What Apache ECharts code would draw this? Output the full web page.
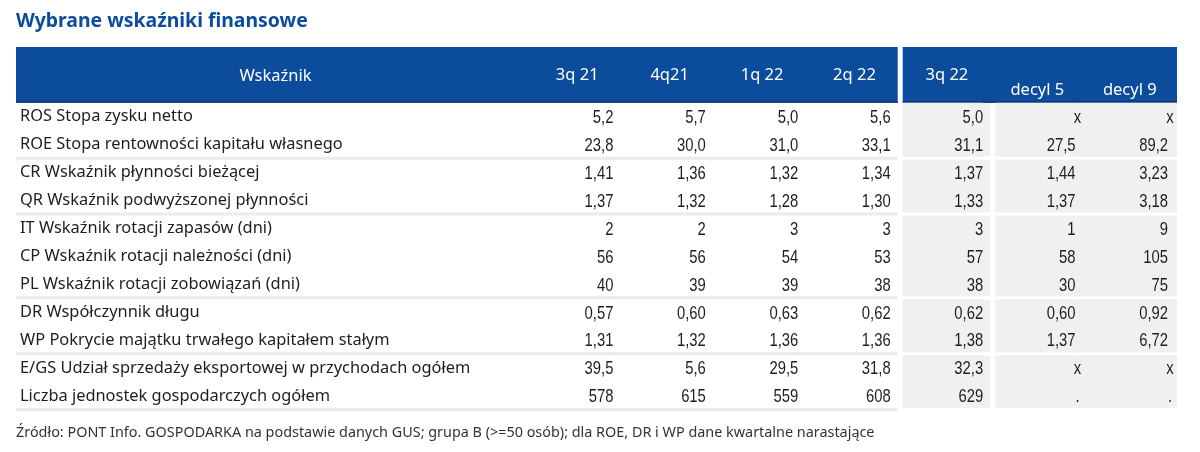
<!DOCTYPE html>
<html><head><meta charset="utf-8">
<script src="https://cdn.jsdelivr.net/npm/echarts@6/dist/echarts.min.js"></script>
<style>html,body{margin:0;padding:0;background:#fff}#c{width:1200px;height:452px}</style>
</head><body><div id="c"></div><script>
const title = 'Wybrane wskaźniki finansowe';
const source = 'Źródło: PONT Info. GOSPODARKA na podstawie danych GUS; grupa B (>=50 osób); dla ROE, DR i WP dane kwartalne narastające';
const labelHeader = 'Wskaźnik';
const columns = ['3q 21', '4q21', '1q 22', '2q 22', '3q 22', 'decyl 5', 'decyl 9'];
const indicators = [
  'ROS Stopa zysku netto',
  'ROE Stopa rentowności kapitału własnego',
  'CR Wskaźnik płynności bieżącej',
  'QR Wskaźnik podwyższonej płynności',
  'IT Wskaźnik rotacji zapasów (dni)',
  'CP Wskaźnik rotacji należności (dni)',
  'PL Wskaźnik rotacji zobowiązań (dni)',
  'DR Współczynnik długu',
  'WP Pokrycie majątku trwałego kapitałem stałym',
  'E/GS Udział sprzedaży eksportowej w przychodach ogółem',
  'Liczba jednostek gospodarczych ogółem'
];
const decimals = [1, 1, 2, 2, 0, 0, 0, 2, 2, 1, 0];
const q3_21 = [5.2, 23.8, 1.41, 1.37, 2, 56, 40, 0.57, 1.31, 39.5, 578];
const q4_21 = [5.7, 30.0, 1.36, 1.32, 2, 56, 39, 0.60, 1.32, 5.6, 615];
const q1_22 = [5.0, 31.0, 1.32, 1.28, 3, 54, 39, 0.63, 1.36, 29.5, 559];
const q2_22 = [5.6, 33.1, 1.34, 1.30, 3, 53, 38, 0.62, 1.36, 31.8, 608];
const q3_22 = [5.0, 31.1, 1.37, 1.33, 3, 57, 38, 0.62, 1.38, 32.3, 629];
const decyl5 = ['x', 27.5, 1.44, 1.37, 1, 58, 30, 0.60, 1.37, 'x', '.'];
const decyl9 = ['x', 89.2, 3.23, 3.18, 9, 105, 75, 0.92, 6.72, 'x', '.'];
const groupEnds = [1, 3, 6, 8, 10];

const seriesValues = [q3_21, q4_21, q1_22, q2_22, q3_22, decyl5, decyl9];
const headerRows = ['h0', 'h1'];
const rowKeys = headerRows.concat(indicators);
const NH = headerRows.length;

const BLUE = '#0c4c9d', DARK = '#083c80', GREY = '#f0f0f0', SEP = '#ebebeb';
const LABEL_FONT = '16.4px "Noto Sans", sans-serif';
const NUM_FONT = '19px "Liberation Sans", Arial, sans-serif';
const NUM_SCALE = 0.78;
const HDR_FONT = '16.5px "Noto Sans", sans-serif';

function fmt(v, d) {
  if (typeof v === 'string') return v;
  return v.toFixed(d).replace('.', ',');
}
function band(api, col, r0, r1) {
  const a = api.coord([col, r0]), b = api.coord([col, r1]);
  const s = api.size([1, 1]);
  return { x: a[0] - s[0] / 2, y: a[1] - s[1] / 2, w: s[0], h: b[1] - a[1] + s[1], rh: s[1] };
}

const chart = echarts.init(document.getElementById('c'), null, { renderer: 'canvas' });

const labelData = indicators.map((t, i) => [0, i + NH]);
const valueData = [];
const valueText = [];
seriesValues.forEach((arr, c) => arr.forEach((v, r) => {
  valueData.push([c, r + NH]);
  valueText.push(fmt(v, decimals[r]));
}));

chart.setOption({
  animation: false,
  backgroundColor: '#fff',
  title: [
    { text: title, left: 16, top: 12, padding: 0,
      textStyle: { fontFamily: 'Noto Sans', fontSize: 19.4, fontWeight: 'bold', color: BLUE } },
    { text: source, left: 16, top: 426, padding: 0,
      textStyle: { fontFamily: 'Noto Sans', fontSize: 14.4, fontWeight: 'normal', color: '#333' } }
  ],
  grid: [
    { left: 16, width: 505, top: 47, height: 363 },
    { left: 521, width: 647, top: 47, height: 363 }
  ],
  xAxis: [
    { gridIndex: 0, type: 'category', data: [labelHeader], show: false },
    { gridIndex: 1, type: 'category', data: columns, show: false }
  ],
  yAxis: [
    { gridIndex: 0, type: 'category', data: rowKeys, inverse: true, show: false },
    { gridIndex: 1, type: 'category', data: rowKeys, inverse: true, show: false }
  ],
  series: [
    { // left block background + header
      type: 'custom', xAxisIndex: 0, yAxisIndex: 0, silent: true, z: 1,
      data: [[0, 0]],
      renderItem: function (params, api) {
        const hdr = band(api, 0, 0, NH - 1);
        const w = hdr.w + 1;
        const ch = [];
        ch.push({ type: 'rect', shape: { x: hdr.x, y: hdr.y, width: w, height: hdr.h }, style: { fill: BLUE } });
        ch.push({ type: 'rect', shape: { x: hdr.x, y: hdr.y + hdr.h - 2, width: w, height: 2 }, style: { fill: DARK } });
        ch.push({ type: 'text', style: { text: labelHeader, x: hdr.x + hdr.w / 2 + 7, y: hdr.y + hdr.h / 2 + 1,
          align: 'center', verticalAlign: 'middle', fill: '#fff', font: HDR_FONT } });
        groupEnds.forEach(g => {
          const y = api.coord([0, g + NH])[1] + hdr.rh / 2;
          ch.push({ type: 'rect', shape: { x: hdr.x, y: y - 2, width: w, height: 3 }, style: { fill: SEP } });
        });
        return { type: 'group', children: ch };
      }
    },
    { // right columns backgrounds + headers
      type: 'custom', xAxisIndex: 1, yAxisIndex: 1, silent: true, z: 1,
      data: columns.map((c, i) => [i, 0]),
      renderItem: function (params, api) {
        const i = api.value(0);
        const hdr = band(api, i, 0, NH - 1);
        const body = band(api, i, NH, rowKeys.length - 1);
        let x0 = hdr.x, x1 = hdr.x + hdr.w;
        if (i === 3) x1 += 7; else if (i === 6) x1 += 9; else x1 += 1;
        if (i === 4) x0 += 12;
        const ch = [];
        ch.push({ type: 'rect', shape: { x: x0, y: hdr.y, width: x1 - x0, height: hdr.h }, style: { fill: BLUE } });
        ch.push({ type: 'rect', shape: { x: x0, y: hdr.y + hdr.h - 2, width: x1 - x0, height: 2 }, style: { fill: DARK } });
        const cx = hdr.x + hdr.w / 2 + (i >= 5 ? 8 : 10);
        const cy = i >= 5 ? api.coord([i, NH - 1])[1] + 1 : hdr.y + hdr.h / 2;
        ch.push({ type: 'text', style: { text: columns[i], x: cx, y: cy,
          align: 'center', verticalAlign: 'middle', fill: '#fff', font: HDR_FONT } });
        let gx0 = body.x, gx1 = body.x + body.w;
        if (i === 4 || i === 5) gx0 += 12;
        if (i === 3 || i === 4) gx1 += 7; else if (i === 6) gx1 += 9; else gx1 += 1;
        if (i >= 4) {
          ch.push({ type: 'rect', shape: { x: gx0, y: body.y, width: gx1 - gx0, height: body.h }, style: { fill: GREY } });
        }
        groupEnds.forEach(g => {
          const y = api.coord([i, g + NH])[1] + hdr.rh / 2;
          ch.push({ type: 'rect', shape: { x: gx0, y: y - 2, width: gx1 - gx0, height: 3 },
            style: { fill: i >= 4 ? '#ffffff' : SEP } });
        });
        return { type: 'group', children: ch };
      }
    },
    { // row labels
      type: 'custom', xAxisIndex: 0, yAxisIndex: 0, silent: true, z: 3,
      data: labelData,
      renderItem: function (params, api) {
        const c = api.coord([api.value(0), api.value(1)]);
        const s = api.size([1, 1]);
        return { type: 'text', style: { text: indicators[params.dataIndex], x: c[0] - s[0] / 2 + 4, y: c[1],
          align: 'left', verticalAlign: 'middle', fill: '#1e1e1e', font: LABEL_FONT } };
      }
    },
    { // values
      type: 'custom', xAxisIndex: 1, yAxisIndex: 1, silent: true, z: 3,
      data: valueData,
      renderItem: function (params, api) {
        const c = api.coord([api.value(0), api.value(1)]);
        const s = api.size([1, 1]);
        const t = valueText[params.dataIndex];
        const special = (t === 'x' || t === '.');
        return { type: 'text', x: c[0] + s[0] / 2 + (special ? 2 : 0), y: c[1] + 1, scaleX: NUM_SCALE,
          style: { text: t, x: 0, y: 0,
          align: special ? 'center' : 'right', verticalAlign: 'middle', fill: '#1e1e1e', font: NUM_FONT } };
      }
    }
  ]
});
</script></body></html>
